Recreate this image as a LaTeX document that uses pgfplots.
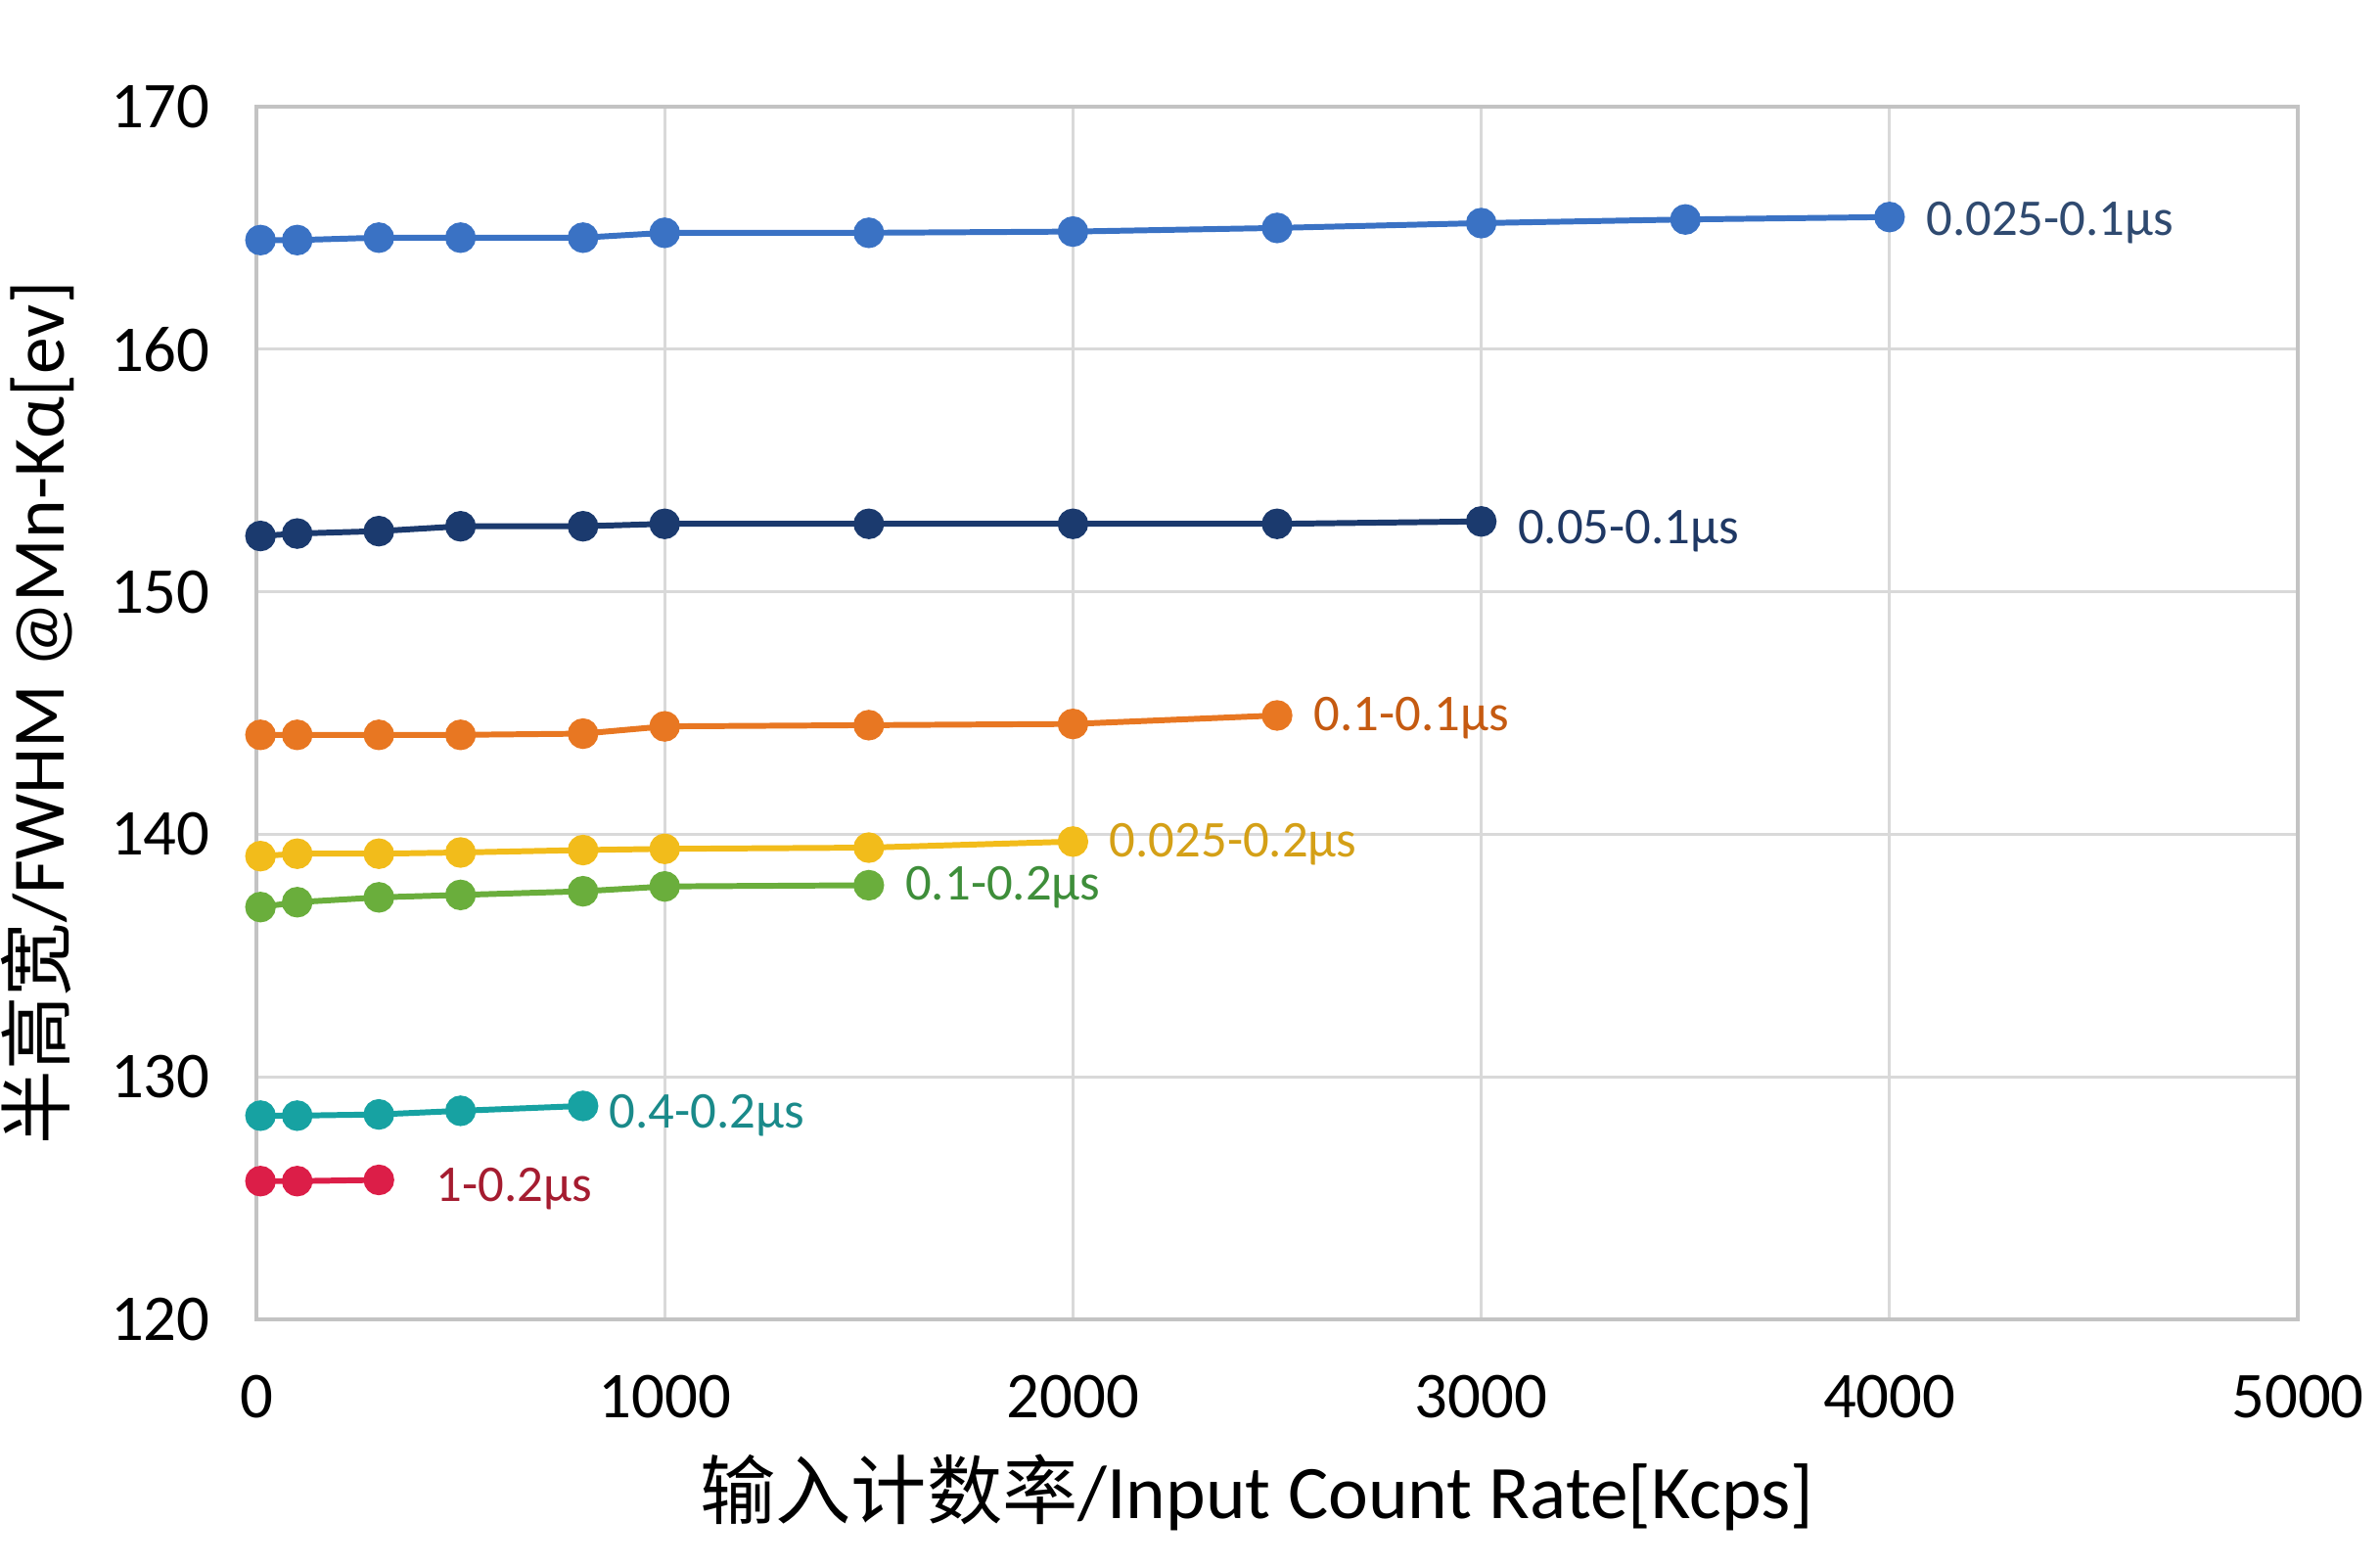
\documentclass[border=0pt]{standalone}
\usepackage{fontspec}
\setmainfont{Carlito}
\newfontfamily\cjk{Noto Sans CJK SC}
\usepackage{pgfplots}
\pgfplotsset{compat=1.18}
\definecolor{cA}{HTML}{3A72C4}\definecolor{tA}{HTML}{2F4A70}
\definecolor{cB}{HTML}{1B3A6E}\definecolor{tB}{HTML}{1F3864}
\definecolor{cC}{HTML}{E87722}\definecolor{tC}{HTML}{C55A11}
\definecolor{cD}{HTML}{F2BC1B}\definecolor{tD}{HTML}{D4A017}
\definecolor{cE}{HTML}{6AAE3C}\definecolor{tE}{HTML}{3E8E3A}
\definecolor{cF}{HTML}{17A2A2}\definecolor{tF}{HTML}{1A8A8A}
\definecolor{cG}{HTML}{DC1E48}\definecolor{tG}{HTML}{A51C30}
\definecolor{gridc}{HTML}{D9D9D9}
\begin{document}
\begin{tikzpicture}
\begin{axis}[name=ax,
  width=20.86cm, height=12.39cm, scale only axis,
  xmin=0, xmax=5000, ymin=120, ymax=170,
  xtick={0,1000,2000,3000,4000,5000},
  ytick={120,130,140,150,160,170},
  grid=major, major grid style={gridc, line width=0.9pt},
  axis line style={draw=gridc!90!black, line width=1pt},
  tick style={draw=none},
  /pgf/number format/assume math mode=true,
  /pgf/number format/set thousands separator={},
  ticklabel style={font=\fontsize{19}{22}\selectfont},
  yticklabel style={xshift=-0.35cm},
  xticklabel style={yshift=-0.45cm},
  xlabel={{\cjk 输入计数率}/Input Count Rate[Kcps]},
  ylabel={{\cjk 半高宽}/FWHM @Mn-Kα[ev]},
  xlabel style={font=\fontsize{22}{26}\selectfont, at={(axis description cs:0.49,0)}, anchor=center, yshift=-1.77cm},
  ylabel style={font=\fontsize{21.5}{26}\selectfont, at={(axis description cs:0,0.5)}, anchor=center, xshift=0pt, yshift=2.23cm},
  every axis plot/.append style={line width=1.7pt, mark=*, mark size=3.6pt},
  clip=false,
]
\addplot[cA, mark options={fill=cA}] coordinates {(10,164.5)(100,164.5)(300,164.6)(500,164.6)(800,164.6)(1000,164.8)(1500,164.8)(2000,164.85)(2500,165.0)(3000,165.2)(3500,165.35)(4000,165.45)};
\addplot[cB, mark options={fill=cB}] coordinates {(10,152.3)(100,152.4)(300,152.5)(500,152.7)(800,152.7)(1000,152.8)(1500,152.8)(2000,152.8)(2500,152.8)(3000,152.9)};
\addplot[cC, mark options={fill=cC}] coordinates {(10,144.1)(100,144.1)(300,144.1)(500,144.1)(800,144.15)(1000,144.45)(1500,144.5)(2000,144.55)(2500,144.9)};
\addplot[cD, mark options={fill=cD}] coordinates {(10,139.1)(100,139.2)(300,139.2)(500,139.25)(800,139.35)(1000,139.4)(1500,139.45)(2000,139.7)};
\addplot[cE, mark options={fill=cE}] coordinates {(10,137.0)(100,137.2)(300,137.4)(500,137.5)(800,137.65)(1000,137.85)(1500,137.9)};
\addplot[cF, mark options={fill=cF}] coordinates {(10,128.4)(100,128.4)(300,128.45)(500,128.6)(800,128.8)};
\addplot[cG, mark options={fill=cG}] coordinates {(10,125.7)(100,125.7)(300,125.75)};
\begin{scope}[every node/.style={anchor=west, font=\fontsize{15}{18}\selectfont}]
\node[tA] at (axis cs:4060,165.2) {0.025-0.1μs};
\node[tB] at (axis cs:3060,152.5) {0.05-0.1μs};
\node[tC] at (axis cs:2560,144.8) {0.1-0.1μs};
\node[tD] at (axis cs:2060,139.6) {0.025-0.2μs};
\node[tE] at (axis cs:1560,137.8) {0.1-0.2μs};
\node[tF] at (axis cs:835,128.4) {0.4-0.2μs};
\node[tG] at (axis cs:410,125.4) {1-0.2μs};
\end{scope}
\end{axis}
\pgfresetboundingbox
\path ([xshift=-2.62cm,yshift=-2.52cm]ax.south west) rectangle ([xshift=0.84cm,yshift=1.09cm]ax.north east);
\end{tikzpicture}
\end{document}
